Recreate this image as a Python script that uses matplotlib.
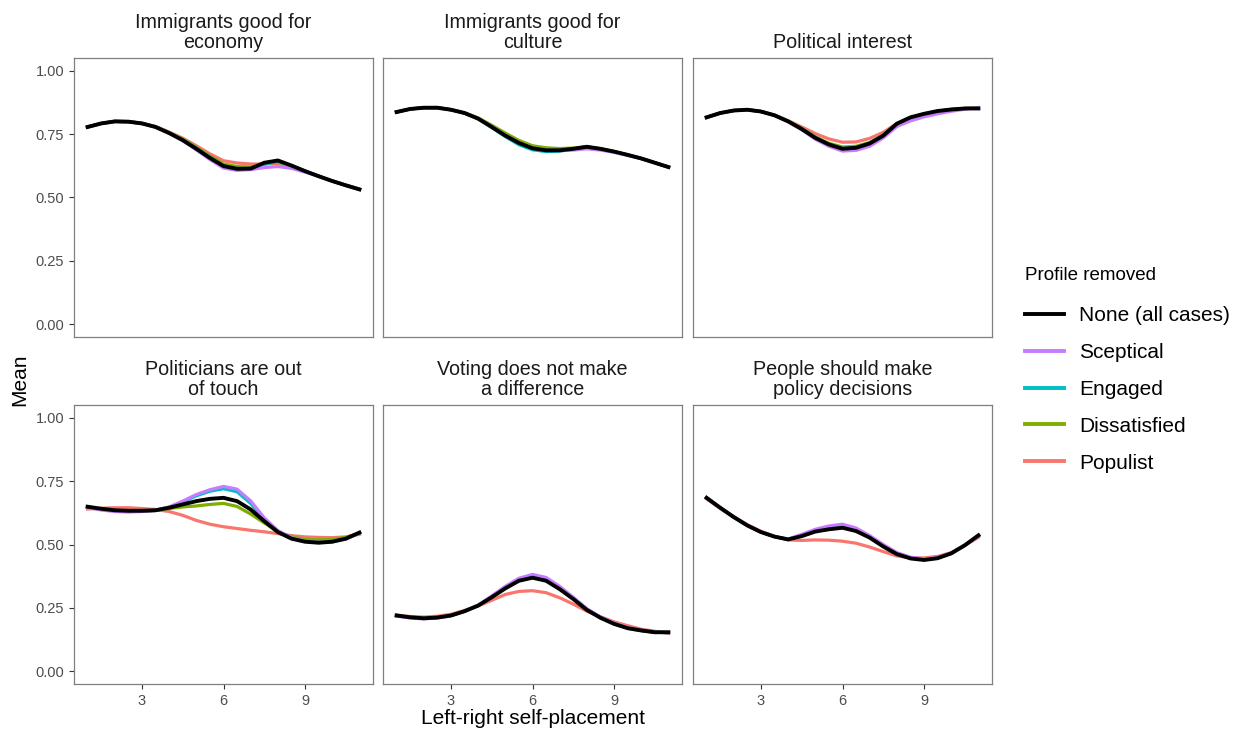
import matplotlib
matplotlib.use("Agg")
import matplotlib.pyplot as plt
from matplotlib.lines import Line2D

# x grid: left-right self-placement
x_vals = [1, 1.5, 2, 2.5, 3, 3.5, 4, 4.5, 5, 5.5, 6, 6.5, 7, 7.5, 8, 8.5, 9, 9.5, 10, 10.5, 11]

titles = ["Immigrants good for\neconomy", "Immigrants good for\nculture", "Political interest",
          "Politicians are out\nof touch", "Voting does not make\na difference",
          "People should make\npolicy decisions"]

series_names = ["None (all cases)", "Sceptical", "Engaged", "Dissatisfied", "Populist"]

# Immigrants good for economy
econ_none = [0.778, 0.792, 0.800, 0.799, 0.792, 0.778, 0.754, 0.726, 0.692, 0.656, 0.624, 0.613, 0.614, 0.637, 0.646, 0.626, 0.604, 0.584, 0.565, 0.548, 0.532]
econ_scept = [0.778, 0.792, 0.800, 0.799, 0.792, 0.778, 0.754, 0.724, 0.688, 0.650, 0.616, 0.607, 0.610, 0.618, 0.622, 0.615, 0.600, 0.583, 0.565, 0.548, 0.532]
econ_engaged = [0.778, 0.792, 0.800, 0.799, 0.792, 0.778, 0.755, 0.727, 0.694, 0.658, 0.622, 0.612, 0.614, 0.632, 0.642, 0.625, 0.604, 0.584, 0.565, 0.548, 0.532]
econ_dissat = [0.778, 0.792, 0.800, 0.799, 0.792, 0.779, 0.756, 0.730, 0.698, 0.663, 0.632, 0.622, 0.620, 0.632, 0.640, 0.625, 0.604, 0.584, 0.565, 0.548, 0.532]
econ_populist = [0.778, 0.792, 0.800, 0.799, 0.793, 0.780, 0.758, 0.734, 0.704, 0.672, 0.645, 0.636, 0.632, 0.632, 0.634, 0.622, 0.603, 0.584, 0.565, 0.549, 0.533]

# Immigrants good for culture
cult_none = [0.837, 0.849, 0.854, 0.854, 0.846, 0.833, 0.811, 0.778, 0.744, 0.715, 0.694, 0.686, 0.686, 0.692, 0.700, 0.692, 0.681, 0.668, 0.654, 0.637, 0.620]
cult_scept = [0.837, 0.849, 0.854, 0.854, 0.846, 0.833, 0.811, 0.779, 0.746, 0.717, 0.695, 0.687, 0.685, 0.687, 0.692, 0.687, 0.678, 0.666, 0.653, 0.637, 0.620]
cult_engaged = [0.837, 0.849, 0.854, 0.854, 0.846, 0.833, 0.810, 0.776, 0.740, 0.708, 0.688, 0.681, 0.683, 0.690, 0.698, 0.691, 0.681, 0.668, 0.654, 0.637, 0.620]
cult_dissat = [0.837, 0.849, 0.854, 0.854, 0.846, 0.834, 0.814, 0.785, 0.754, 0.725, 0.704, 0.696, 0.693, 0.695, 0.700, 0.692, 0.681, 0.668, 0.654, 0.637, 0.620]
cult_populist = [0.837, 0.849, 0.854, 0.854, 0.846, 0.833, 0.812, 0.781, 0.749, 0.720, 0.699, 0.691, 0.690, 0.693, 0.699, 0.692, 0.681, 0.668, 0.654, 0.637, 0.620]

# Political interest
inter_none = [0.816, 0.833, 0.843, 0.846, 0.839, 0.824, 0.800, 0.770, 0.735, 0.709, 0.692, 0.696, 0.713, 0.744, 0.791, 0.816, 0.830, 0.841, 0.847, 0.851, 0.851]
inter_scept = [0.816, 0.833, 0.843, 0.846, 0.839, 0.824, 0.799, 0.767, 0.730, 0.702, 0.683, 0.686, 0.702, 0.735, 0.780, 0.802, 0.818, 0.830, 0.840, 0.848, 0.855]
inter_engaged = [0.816, 0.833, 0.843, 0.846, 0.839, 0.824, 0.800, 0.770, 0.736, 0.710, 0.694, 0.697, 0.714, 0.745, 0.790, 0.814, 0.829, 0.840, 0.847, 0.851, 0.852]
inter_dissat = [0.816, 0.833, 0.843, 0.846, 0.839, 0.824, 0.801, 0.772, 0.739, 0.714, 0.699, 0.702, 0.717, 0.746, 0.790, 0.814, 0.829, 0.840, 0.847, 0.851, 0.852]
inter_populist = [0.816, 0.833, 0.843, 0.846, 0.839, 0.825, 0.803, 0.778, 0.752, 0.731, 0.718, 0.719, 0.733, 0.757, 0.792, 0.814, 0.829, 0.840, 0.847, 0.851, 0.853]

# Politicians are out of touch
touch_none = [0.649, 0.641, 0.635, 0.633, 0.633, 0.635, 0.645, 0.658, 0.671, 0.680, 0.684, 0.671, 0.638, 0.592, 0.549, 0.523, 0.511, 0.507, 0.511, 0.523, 0.547]
touch_scept = [0.645, 0.636, 0.630, 0.628, 0.630, 0.635, 0.648, 0.671, 0.697, 0.716, 0.729, 0.718, 0.672, 0.605, 0.555, 0.527, 0.513, 0.508, 0.511, 0.522, 0.545]
touch_engaged = [0.647, 0.638, 0.632, 0.630, 0.631, 0.635, 0.647, 0.668, 0.692, 0.710, 0.720, 0.708, 0.662, 0.598, 0.552, 0.526, 0.513, 0.508, 0.511, 0.522, 0.545]
touch_dissat = [0.648, 0.640, 0.634, 0.632, 0.632, 0.634, 0.642, 0.648, 0.652, 0.658, 0.662, 0.650, 0.620, 0.585, 0.550, 0.530, 0.520, 0.518, 0.520, 0.528, 0.545]
touch_populist = [0.640, 0.643, 0.645, 0.645, 0.642, 0.638, 0.630, 0.615, 0.595, 0.580, 0.570, 0.563, 0.556, 0.550, 0.543, 0.535, 0.530, 0.528, 0.527, 0.530, 0.540]

# Voting does not make a difference
vote_none = [0.220, 0.213, 0.209, 0.212, 0.220, 0.237, 0.259, 0.292, 0.327, 0.357, 0.369, 0.357, 0.324, 0.285, 0.242, 0.211, 0.187, 0.170, 0.161, 0.154, 0.154]
vote_scept = [0.218, 0.210, 0.207, 0.210, 0.219, 0.237, 0.261, 0.297, 0.335, 0.367, 0.382, 0.370, 0.335, 0.292, 0.247, 0.214, 0.190, 0.172, 0.162, 0.155, 0.152]
vote_engaged = [0.220, 0.213, 0.209, 0.212, 0.220, 0.237, 0.260, 0.294, 0.331, 0.362, 0.375, 0.363, 0.330, 0.289, 0.245, 0.213, 0.189, 0.171, 0.161, 0.154, 0.153]
vote_dissat = [0.220, 0.213, 0.209, 0.212, 0.220, 0.237, 0.260, 0.293, 0.329, 0.360, 0.372, 0.360, 0.327, 0.287, 0.244, 0.212, 0.188, 0.170, 0.161, 0.154, 0.153]
vote_populist = [0.222, 0.216, 0.214, 0.217, 0.225, 0.240, 0.258, 0.280, 0.303, 0.315, 0.318, 0.310, 0.290, 0.265, 0.237, 0.215, 0.195, 0.180, 0.166, 0.158, 0.150]

# People should make policy decisions
people_none = [0.684, 0.645, 0.608, 0.575, 0.549, 0.531, 0.520, 0.533, 0.551, 0.560, 0.566, 0.553, 0.527, 0.492, 0.462, 0.445, 0.439, 0.446, 0.465, 0.497, 0.536]
people_scept = [0.684, 0.645, 0.608, 0.575, 0.549, 0.531, 0.521, 0.540, 0.560, 0.573, 0.580, 0.565, 0.535, 0.500, 0.468, 0.450, 0.443, 0.448, 0.466, 0.496, 0.532]
people_engaged = [0.684, 0.645, 0.608, 0.575, 0.549, 0.531, 0.521, 0.537, 0.556, 0.567, 0.573, 0.559, 0.531, 0.496, 0.465, 0.447, 0.441, 0.447, 0.465, 0.497, 0.535]
people_dissat = [0.684, 0.645, 0.608, 0.575, 0.549, 0.531, 0.520, 0.535, 0.553, 0.563, 0.569, 0.556, 0.529, 0.494, 0.463, 0.446, 0.440, 0.446, 0.465, 0.497, 0.536]
people_populist = [0.680, 0.642, 0.610, 0.578, 0.552, 0.532, 0.518, 0.516, 0.518, 0.517, 0.513, 0.505, 0.490, 0.472, 0.455, 0.448, 0.447, 0.453, 0.468, 0.497, 0.528]

panels = [
    [econ_none, econ_scept, econ_engaged, econ_dissat, econ_populist],
    [cult_none, cult_scept, cult_engaged, cult_dissat, cult_populist],
    [inter_none, inter_scept, inter_engaged, inter_dissat, inter_populist],
    [touch_none, touch_scept, touch_engaged, touch_dissat, touch_populist],
    [vote_none, vote_scept, vote_engaged, vote_dissat, vote_populist],
    [people_none, people_scept, people_engaged, people_dissat, people_populist],
]

colors = ["black", "#C77CFF", "#00BFC4", "#7CAE00", "#F8766D"]
widths = [2.8, 2.3, 2.3, 2.3, 2.3]
draw_order = [4, 3, 2, 1, 0]  # populist at the bottom, black on top

plt.rcParams['font.family'] = ['Liberation Sans', 'DejaVu Sans']
fig = plt.figure(figsize=(12.48, 7.33), dpi=100)

W, H = 1248, 733
lefts = [74, 383, 693]
tops = [58, 405]
pw, ph = 299, 279

for k, data in enumerate(panels):
    r, c = divmod(k, 3)
    ax = fig.add_axes([lefts[c] / W, 1 - (tops[r] + ph) / H, pw / W, ph / H])
    for i in draw_order:
        ax.plot(x_vals, data[i], color=colors[i], lw=widths[i], solid_joinstyle='round')
    ax.set_xlim(0.5, 11.5)
    ax.set_ylim(-0.05, 1.05)
    ax.set_xticks([3, 6, 9])
    ax.set_yticks([0, 0.25, 0.5, 0.75, 1.0])
    ax.set_yticklabels(["0.00", "0.25", "0.50", "0.75", "1.00"])
    for s in ax.spines.values():
        s.set_color("#7f7f7f")
        s.set_linewidth(0.9)
    ax.tick_params(colors="#333333", labelcolor="#4D4D4D", labelsize=10.5, length=3.5, width=0.8)
    if r == 0:
        ax.tick_params(axis='x', bottom=False, labelbottom=False)
    if c != 0:
        ax.tick_params(axis='y', left=False, labelleft=False)
    ax.set_title(titles[k], fontsize=14.2, color="#1a1a1a", pad=7, linespacing=1.1)

fig.text(20 / W, 1 - 380 / H, "Mean", rotation=90, ha='center', va='center', fontsize=15, color="black")
fig.text(533 / W, 1 - 718 / H, "Left-right self-placement", ha='center', va='center', fontsize=15, color="black")

handles = [Line2D([0], [0], color=colors[i], lw=2.8) for i in range(5)]
leg = fig.legend(handles, series_names, title="Profile removed", loc='upper left',
                 bbox_to_anchor=(1006 / W, 1 - 248 / H), frameon=False, fontsize=15,
                 title_fontsize=13.5, handlelength=1.9, handletextpad=0.72, labelspacing=0.86)
leg._legend_box.align = "left"
leg._legend_box.sep = 16

fig.savefig("out.png", dpi=100)
